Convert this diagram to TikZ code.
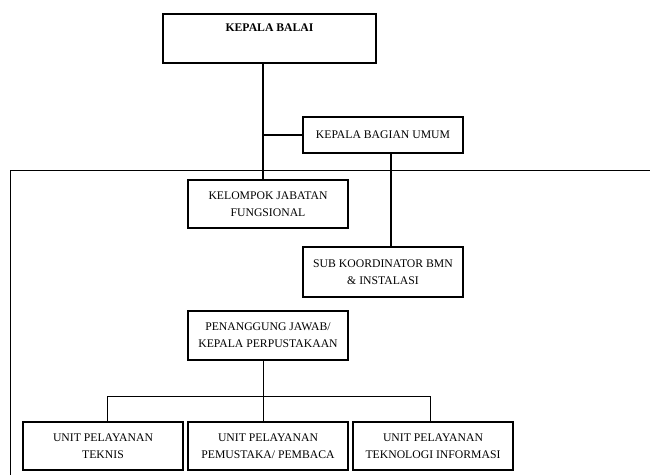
\documentclass[tikz,border=0pt]{standalone}
\usepackage{fontspec}
\setmainfont{Liberation Serif}
\begin{document}
\begin{tikzpicture}[x=1pt,y=-1pt,
  box/.style={draw,line width=1.1pt,align=center,inner sep=0pt,
    minimum width=160pt,font=\fontsize{11.7}{17}\selectfont},
  thick line/.style={line width=1.7pt},
  thin line/.style={line width=0.9pt}]
\useasboundingbox (0,0) rectangle (650,475);
\node[box,minimum width=213pt,minimum height=49pt] (kb) at (269.5,38.5) {\textbf{KEPALA BALAI}\\\strut};
\node[box,minimum height=36pt] (kbu) at (383,135) {KEPALA BAGIAN UMUM};
\node[box,minimum height=48pt] (kjf) at (268,204) {KELOMPOK JABATAN\\FUNGSIONAL};
\node[box,minimum height=50pt] (sub) at (383,272) {SUB KOORDINATOR BMN\\\& INSTALASI};
\node[box,minimum height=49pt] (pj) at (268,335.5) {PENANGGUNG JAWAB/\\KEPALA PERPUSTAKAAN};
\node[box,minimum height=48pt] (u1) at (103,446) {UNIT PELAYANAN\\TEKNIS};
\node[box,minimum height=48pt] (u2) at (268,446) {UNIT PELAYANAN\\PEMUSTAKA/ PEMBACA};
\node[box,minimum height=48pt] (u3) at (433,446) {UNIT PELAYANAN\\TEKNOLOGI INFORMASI};
\coordinate (spine) at (263,0);
\coordinate (bx) at (391,0);
\coordinate (fr) at (650,170);
\coordinate (fl) at (10,475);
\coordinate (bar) at (0,396);
% frame
\draw[thin line] (fr) -| (fl);
% top connectors
\draw[thick line] (kb.south -| spine) -- (kjf.north -| spine);
\draw[thick line] (spine |- kbu.west) -- (kbu.west);
\draw[thick line] (kbu.south -| bx) -- (sub.north -| bx);
% lower connectors
\draw[thin line] (pj.south -| spine) -- (u2.north -| spine);
\draw[thin line] ([xshift=4pt]u1.north) |- (bar -| spine) -| ([xshift=-3pt]u3.north);
\end{tikzpicture}
\end{document}
